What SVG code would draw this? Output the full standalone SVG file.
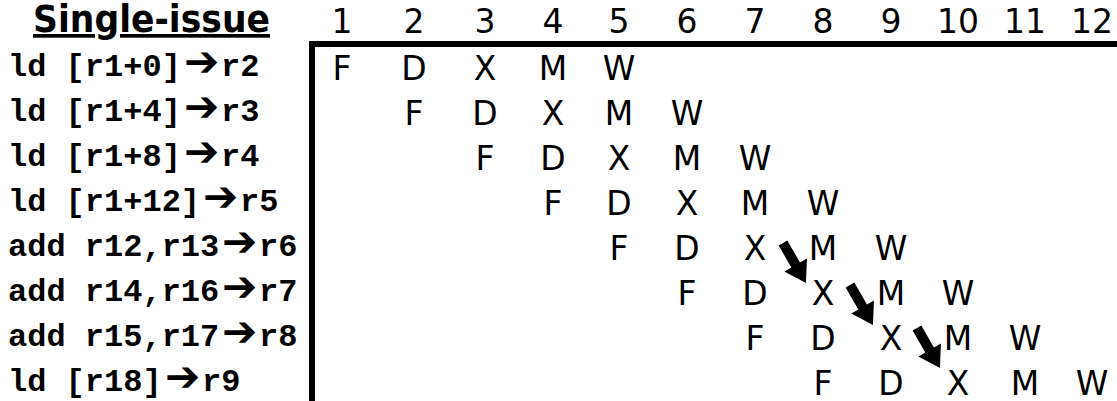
<svg xmlns="http://www.w3.org/2000/svg" width="1117" height="401" viewBox="0 0 1117 401">
<style>
.title{font-family:"DejaVu Sans",Verdana,sans-serif;font-weight:bold;font-size:37px;fill:#000;text-decoration:underline}
.code{font-family:"Liberation Mono","Courier New",monospace;font-weight:bold;font-size:32px;fill:#000}
.arr{font-family:"DejaVu Sans",sans-serif;font-weight:bold;font-size:42px}
.cell{font-family:"DejaVu Sans",Verdana,sans-serif;font-size:33px;fill:#000;text-anchor:middle}
.dep{stroke:#000;stroke-width:10;fill:none;marker-end:url(#head)}
</style>
<defs>
<marker id="head" markerUnits="userSpaceOnUse" markerWidth="22" markerHeight="26" viewBox="0 0 19 24" refX="6" refY="12" orient="auto">
<path d="M0,0 L19,12 L0,24 Z" fill="#000"/>
</marker>
</defs>
<rect width="1117" height="401" fill="#fff"/>
<g id="title"><text class="title" x="33" y="32" textLength="237" lengthAdjust="spacingAndGlyphs">Single-issue</text></g>
<g id="frame"><path d="M312 401 V44 H1117" stroke="#000" stroke-width="6" fill="none"/></g>
<g id="cycles">
<text class="cell" x="342" y="33">1</text>
<text class="cell" x="414" y="33">2</text>
<text class="cell" x="485" y="33">3</text>
<text class="cell" x="553" y="33">4</text>
<text class="cell" x="619" y="33">5</text>
<text class="cell" x="687" y="33">6</text>
<text class="cell" x="755" y="33">7</text>
<text class="cell" x="823" y="33">8</text>
<text class="cell" x="891" y="33">9</text>
<text class="cell" x="958" y="33">10</text>
<text class="cell" x="1025" y="33">11</text>
<text class="cell" x="1092" y="33">12</text>
</g>
<g id="instr1"><text class="code" x="8" y="76">ld [r1+0]<tspan class="arr" x="184">➔</tspan><tspan x="221">r2</tspan></text>
<text class="cell" y="80"><tspan x="342">F</tspan><tspan x="414">D</tspan><tspan x="485">X</tspan><tspan x="553">M</tspan><tspan x="619">W</tspan></text></g>
<g id="instr2"><text class="code" x="8" y="121">ld [r1+4]<tspan class="arr" x="184">➔</tspan><tspan x="221">r3</tspan></text>
<text class="cell" y="125"><tspan x="414">F</tspan><tspan x="485">D</tspan><tspan x="553">X</tspan><tspan x="619">M</tspan><tspan x="687">W</tspan></text></g>
<g id="instr3"><text class="code" x="8" y="166">ld [r1+8]<tspan class="arr" x="184">➔</tspan><tspan x="221">r4</tspan></text>
<text class="cell" y="170"><tspan x="485">F</tspan><tspan x="553">D</tspan><tspan x="619">X</tspan><tspan x="687">M</tspan><tspan x="755">W</tspan></text></g>
<g id="instr4"><text class="code" x="8" y="211">ld [r1+12]<tspan class="arr" x="203">➔</tspan><tspan x="240">r5</tspan></text>
<text class="cell" y="215"><tspan x="553">F</tspan><tspan x="619">D</tspan><tspan x="687">X</tspan><tspan x="755">M</tspan><tspan x="823">W</tspan></text></g>
<g id="instr5"><text class="code" x="8" y="256">add r12,r13<tspan class="arr" x="222">➔</tspan><tspan x="259">r6</tspan></text>
<text class="cell" y="260"><tspan x="619">F</tspan><tspan x="687">D</tspan><tspan x="755">X</tspan><tspan x="823">M</tspan><tspan x="891">W</tspan></text></g>
<g id="instr6"><text class="code" x="8" y="301">add r14,r16<tspan class="arr" x="222">➔</tspan><tspan x="259">r7</tspan></text>
<text class="cell" y="305"><tspan x="687">F</tspan><tspan x="755">D</tspan><tspan x="823">X</tspan><tspan x="891">M</tspan><tspan x="958">W</tspan></text></g>
<g id="instr7"><text class="code" x="8" y="346">add r15,r17<tspan class="arr" x="222">➔</tspan><tspan x="259">r8</tspan></text>
<text class="cell" y="350"><tspan x="755">F</tspan><tspan x="823">D</tspan><tspan x="891">X</tspan><tspan x="958">M</tspan><tspan x="1025">W</tspan></text></g>
<g id="instr8"><text class="code" x="8" y="391">ld [r18]<tspan class="arr" x="165">➔</tspan><tspan x="202">r9</tspan></text>
<text class="cell" y="395"><tspan x="823">F</tspan><tspan x="891">D</tspan><tspan x="958">X</tspan><tspan x="1025">M</tspan><tspan x="1092">W</tspan></text></g>
<g id="connectors">
<line class="dep" x1="783" y1="243" x2="798.9" y2="270.7"/>
<line class="dep" x1="850" y1="285" x2="865.9" y2="312.7"/>
<line class="dep" x1="917" y1="328" x2="932.9" y2="355.7"/>
</g>
</svg>
